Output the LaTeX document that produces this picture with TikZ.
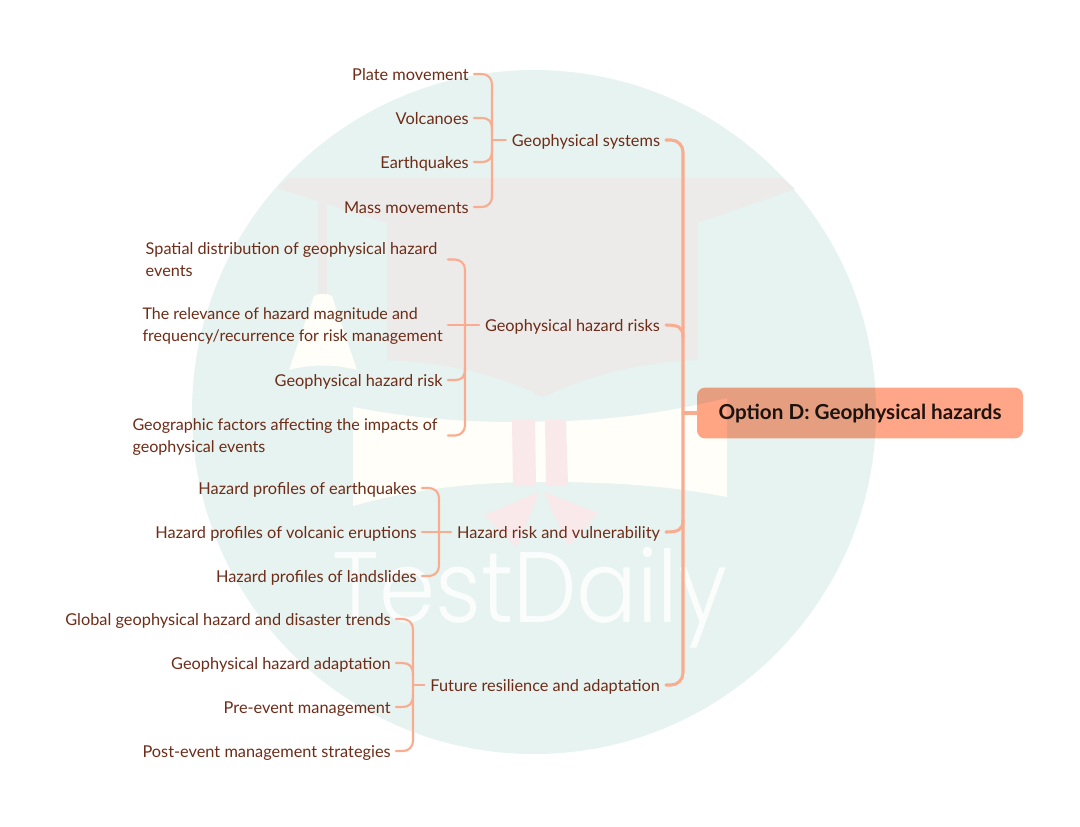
\documentclass[tikz,border=0pt]{standalone}
\usepackage{fontspec}
\setmainfont{Lato}
\newfontfamily\wmfont{Poppins Light}
\usetikzlibrary{calc}
\definecolor{wmcircle}{HTML}{E6F3F0}
\definecolor{wmgray}{HTML}{ECEBEA}
\definecolor{wmpink}{HTML}{F9E9EA}
\definecolor{wmcream}{HTML}{FFFEF9}
\definecolor{linkc}{HTML}{F9AC8F}
\definecolor{txtc}{HTML}{6E2C18}
\definecolor{rootc}{HTML}{FFA688}
\newcommand\linestrut{\rule[-3.75pt]{0pt}{16.5pt}}
\newcommand\rootstrut{\rule[-5pt]{0pt}{19pt}}
\tikzset{
 leaf/.style={anchor=east,inner sep=0pt,outer xsep=4pt,text=txtc,align=left,
   font=\fontsize{12.25pt}{16.5pt}\selectfont,execute at begin node=\linestrut,execute at end node=\linestrut},
 twoline/.style={leaf,font=\fontsize{12pt}{16.5pt}\selectfont},
 wide/.style={twoline,outer xsep=8pt},
 branch/.style={leaf,outer xsep=4.5pt},
 thin link/.style={draw=linkc,line width=1.6pt,line cap=round,rounded corners=7.5pt},
 thin curve/.style={draw=linkc,line width=1.6pt,line cap=round,sharp corners},
 thick link/.style={draw=linkc,line width=2.3pt,line cap=round,rounded corners=9pt},
 thick curve/.style={draw=linkc,line width=2.3pt,line cap=round,sharp corners},
 rootbox/.style={fill=rootc,rounded corners=6pt,inner sep=0pt,minimum width=244.5pt,minimum height=38pt,
   text=black!88,font=\fontsize{15.5pt}{18pt}\selectfont\bfseries,blend mode=multiply,execute at begin node=\rootstrut},
}
\begin{document}
\begin{tikzpicture}[x=0.75pt,y=-0.75pt]
\useasboundingbox (0,0) rectangle (1080,826);
% watermark
\fill[wmcircle] (534,412) circle[radius=342];
\fill[wmgray] (289,178) -- (783,178) -- (795,189) -- (697,223) -- (697,360)
  .. controls (640,362) and (590,375) .. (543,397) .. controls (500,375) and (445,362) .. (387,360)
  -- (387,223) -- (277,188) -- cycle;
\fill[wmgray] (318,195) rectangle (327,297);
\fill[wmcream] (314,296) .. controls (318,293) and (328,293) .. (332,296) -- (357,370)
  .. controls (335,364) and (310,364) .. (289,370) -- cycle;
\fill[wmcream] (353,407) .. controls (420,420) and (480,423) .. (540,421.5)
  .. controls (610,421) and (670,412) .. (727,398) -- (727,497)
  .. controls (660,484) and (600,482) .. (540,482) .. controls (470,482) and (410,490) .. (353,506) -- cycle;
\fill[wmpink] (512,420) -- (535,420) -- (536,486) -- (513,486) -- cycle;
\fill[wmpink] (545,420) -- (566,420) -- (568,485) -- (546,485) -- cycle;
\fill[wmpink] (539,492) -- (484,515) -- (517,547) -- cycle;
\fill[wmpink] (544,492) -- (598,513) -- (568,546) -- cycle;
\node[inner sep=0pt,anchor=base,text=white,opacity=.85,xscale=.9,font=\wmfont\fontsize{75pt}{80pt}\selectfont] (wm) at (530,622) {TestDaily};
% nodes
\node[rootbox] (root) at (860,413) {Option D: Geophysical hazards};
\coordinate (trunk) at (683,413);
\node[branch] (bA) at (666,140) {Geophysical systems};
\node[branch] (bB) at (666,325) {Geophysical hazard risks};
\node[branch] (bC) at (666,532) {Hazard risk and vulnerability};
\node[branch] (bD) at (666,685) {Future resilience and adaptation};
\coordinate (kA) at (492,140);
\coordinate (kB) at (465,325);
\coordinate (kC) at (439,532);
\coordinate (kD) at (413,685);
\node[leaf] (a1) at (474,74) {Plate movement};
\node[leaf] (a2) at (474,118) {Volcanoes};
\node[leaf] (a3) at (474,162) {Earthquakes};
\node[leaf] (a4) at (474,207) {Mass movements};
\node[wide,font=\fontsize{12.2pt}{16.5pt}\selectfont] (b1) at (448,262) {Spatial distribution of geophysical hazard\\events};
\node[twoline] (b2) at (448,327.5) {The relevance of hazard magnitude and\\frequency/recurrence for risk management};
\node[leaf] (b3) at (448,380) {Geophysical hazard risk};
\node[wide,font=\fontsize{12.08pt}{16.5pt}\selectfont] (b4) at (448,438) {Geographic factors affecting the impacts of\\geophysical events};
\coordinate (p1) at ($(b1.east)+(0,-2.5)$);
\coordinate (p2) at ($(b2.east)+(0,-2.5)$);
\coordinate (p4) at ($(b4.east)+(0,-2.5)$);
\node[leaf] (c1) at (422,488) {Hazard profiles of earthquakes};
\node[leaf] (c2) at (422,532) {Hazard profiles of volcanic eruptions};
\node[leaf] (c3) at (422,576) {Hazard profiles of landslides};
\node[leaf] (d1) at (396,619) {Global geophysical hazard and disaster trends};
\node[leaf] (d2) at (396,663) {Geophysical hazard adaptation};
\node[leaf] (d3) at (396,707) {Pre-event management};
\node[leaf] (d4) at (396,751) {Post-event management strategies};
% links
\draw[thick link] (bA.east) -- (bA.east -| trunk) -- (bD.east -| trunk) -- (bD.east);
\draw[thick curve] (bB.east) .. controls ($(bB.east)+(12,0)$) and ($(bB.east -| trunk)+(0,2)$) .. ($(bB.east -| trunk)+(0,12)$);
\draw[thick curve] (bC.east) .. controls ($(bC.east)+(12,0)$) and ($(bC.east -| trunk)+(0,-2)$) .. ($(bC.east -| trunk)+(0,-12)$);
\draw[thick curve] (root.west) -- (trunk);
\draw[thin link] (a1.east) -- (a1.east -| kA) -- (a4.east -| kA) -- (a4.east);
\draw[thin curve] (a2.east) -- ($(a2.east)+(7,0)$) .. controls ($(a2.east)+(15,0)$) and ($(a2.east -| kA)+(0,3)$) .. ($(a2.east -| kA)+(0,12)$);
\draw[thin curve] (a3.east) -- ($(a3.east)+(7,0)$) .. controls ($(a3.east)+(15,0)$) and ($(a3.east -| kA)+(0,-3)$) .. ($(a3.east -| kA)+(0,-12)$);
\draw[thin curve] (kA) -- (bA.west);
\draw[thin link] (p1) -- (p1 -| kB) -- (p4 -| kB) -- (p4);
\draw[thin curve] (p2) -- (bB.west);
\draw[thin curve] (b3.east) -- ($(b3.east)+(7,0)$) .. controls ($(b3.east)+(14,0)$) and ($(b3.east -| kB)+(0,-3)$) .. ($(b3.east -| kB)+(0,-12)$);
\draw[thin link] (c1.east) -- (c1.east -| kC) -- (c3.east -| kC) -- (c3.east);
\draw[thin curve] (c2.east) -- (bC.west);
\draw[thin link] (d1.east) -- (d1.east -| kD) -- (d4.east -| kD) -- (d4.east);
\draw[thin curve] (d2.east) -- ($(d2.east)+(6,0)$) .. controls ($(d2.east)+(13,0)$) and ($(d2.east -| kD)+(0,3)$) .. ($(d2.east -| kD)+(0,12)$);
\draw[thin curve] (d3.east) -- ($(d3.east)+(6,0)$) .. controls ($(d3.east)+(13,0)$) and ($(d3.east -| kD)+(0,-3)$) .. ($(d3.east -| kD)+(0,-12)$);
\draw[thin curve] (kD) -- (bD.west);
\end{tikzpicture}
\end{document}
